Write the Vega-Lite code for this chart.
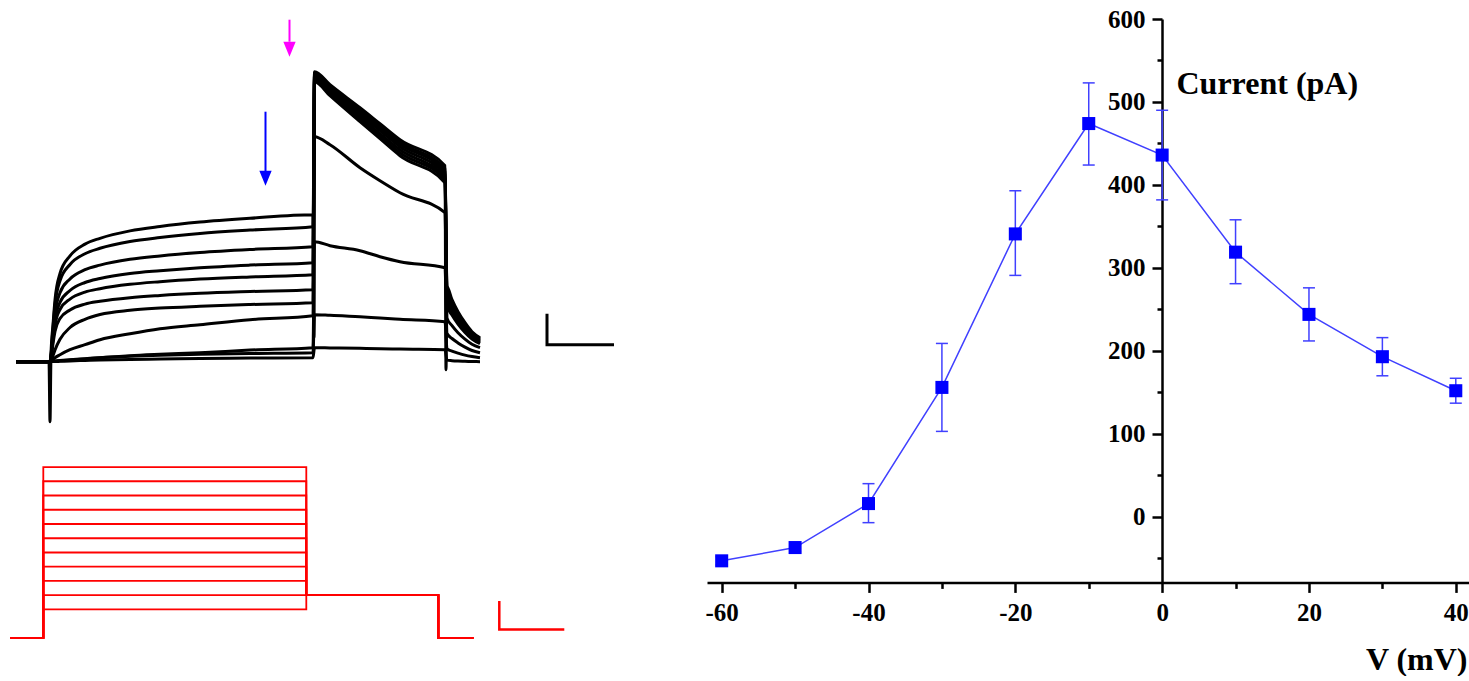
{
"$schema": "https://vega.github.io/schema/vega-lite/v6.json",
"autosize": {"type": "pad"},
"padding": {"top": 7, "left": 0, "right": 0, "bottom": 0},
"spacing": 0,
"bounds": "flush",
"config": {
  "view": {"stroke": null},
  "axis": {"grid": false, "domainColor": "#000000", "domainWidth": 2.5, "tickColor": "#000000", "tickWidth": 2.5,
    "labelFont": "Liberation Serif", "labelFontSize": 25, "labelFontWeight": "bold", "labelColor": "#000000",
    "titleFont": "Liberation Serif", "titleFontSize": 32, "titleFontWeight": "bold", "titleColor": "#000000",
    "labelOverlap": false, "labelBound": false}
},
"datasets": {
  "traces": [
    {"k":1,"t":-68,"I":0},{"k":1,"t":-2,"I":0},{"k":1,"t":0,"I":-300},{"k":1,"t":2,"I":37},{"k":1,"t":6,"I":184},{"k":1,"t":10,"I":309},{"k":1,"t":20,"I":441},{"k":1,"t":40,"I":529},{"k":1,"t":70,"I":588},{"k":1,"t":100,"I":617},{"k":1,"t":160,"I":654},{"k":1,"t":220,"I":676},{"k":1,"t":300,"I":698},{"k":1,"t":400,"I":717},{"k":1,"t":526,"I":735},{"k":1,"t":528,"I":120},{"k":1,"t":529,"I":1450},{"k":1,"t":560,"I":1385},{"k":1,"t":620,"I":1270},{"k":1,"t":660,"I":1190},{"k":1,"t":700,"I":1110},{"k":1,"t":790,"I":980},{"k":1,"t":792,"I":-40},{"k":1,"t":794,"I":375},{"k":1,"t":804,"I":310},{"k":1,"t":816,"I":250},{"k":1,"t":830,"I":195},{"k":1,"t":844,"I":150},{"k":1,"t":860,"I":120},
    {"k":2,"t":-68,"I":0},{"k":2,"t":-2,"I":0},{"k":2,"t":0,"I":0},{"k":2,"t":2,"I":34},{"k":2,"t":6,"I":169},{"k":2,"t":10,"I":284},{"k":2,"t":20,"I":405},{"k":2,"t":40,"I":486},{"k":2,"t":70,"I":540},{"k":2,"t":100,"I":567},{"k":2,"t":160,"I":601},{"k":2,"t":220,"I":621},{"k":2,"t":300,"I":641},{"k":2,"t":400,"I":658},{"k":2,"t":526,"I":675},{"k":2,"t":529,"I":1445},{"k":2,"t":560,"I":1378},{"k":2,"t":620,"I":1260},{"k":2,"t":660,"I":1178},{"k":2,"t":700,"I":1098},{"k":2,"t":790,"I":965},{"k":2,"t":794,"I":360},{"k":2,"t":804,"I":298},{"k":2,"t":816,"I":240},{"k":2,"t":830,"I":187},{"k":2,"t":844,"I":144},{"k":2,"t":860,"I":115},
    {"k":3,"t":-68,"I":0},{"k":3,"t":-2,"I":0},{"k":3,"t":0,"I":0},{"k":3,"t":2,"I":29},{"k":3,"t":6,"I":144},{"k":3,"t":10,"I":242},{"k":3,"t":20,"I":345},{"k":3,"t":40,"I":414},{"k":3,"t":70,"I":460},{"k":3,"t":100,"I":483},{"k":3,"t":160,"I":512},{"k":3,"t":220,"I":529},{"k":3,"t":300,"I":546},{"k":3,"t":400,"I":561},{"k":3,"t":526,"I":575},{"k":3,"t":529,"I":1435},{"k":3,"t":560,"I":1370},{"k":3,"t":620,"I":1250},{"k":3,"t":660,"I":1168},{"k":3,"t":700,"I":1088},{"k":3,"t":790,"I":950},{"k":3,"t":794,"I":345},{"k":3,"t":804,"I":285},{"k":3,"t":816,"I":230},{"k":3,"t":830,"I":179},{"k":3,"t":844,"I":138},{"k":3,"t":860,"I":110},
    {"k":4,"t":-68,"I":0},{"k":4,"t":-2,"I":0},{"k":4,"t":0,"I":0},{"k":4,"t":2,"I":25},{"k":4,"t":6,"I":124},{"k":4,"t":10,"I":208},{"k":4,"t":20,"I":297},{"k":4,"t":40,"I":356},{"k":4,"t":70,"I":396},{"k":4,"t":100,"I":416},{"k":4,"t":160,"I":441},{"k":4,"t":220,"I":455},{"k":4,"t":300,"I":470},{"k":4,"t":400,"I":483},{"k":4,"t":526,"I":495},{"k":4,"t":529,"I":1430},{"k":4,"t":560,"I":1360},{"k":4,"t":620,"I":1238},{"k":4,"t":660,"I":1155},{"k":4,"t":700,"I":1075},{"k":4,"t":790,"I":935},{"k":4,"t":794,"I":328},{"k":4,"t":804,"I":271},{"k":4,"t":816,"I":219},{"k":4,"t":830,"I":171},{"k":4,"t":844,"I":131},{"k":4,"t":860,"I":105},
    {"k":5,"t":-68,"I":0},{"k":5,"t":-2,"I":0},{"k":5,"t":0,"I":0},{"k":5,"t":2,"I":22},{"k":5,"t":6,"I":109},{"k":5,"t":10,"I":183},{"k":5,"t":20,"I":261},{"k":5,"t":40,"I":313},{"k":5,"t":70,"I":348},{"k":5,"t":100,"I":365},{"k":5,"t":160,"I":387},{"k":5,"t":220,"I":400},{"k":5,"t":300,"I":413},{"k":5,"t":400,"I":424},{"k":5,"t":526,"I":435},{"k":5,"t":529,"I":1420},{"k":5,"t":560,"I":1350},{"k":5,"t":620,"I":1225},{"k":5,"t":660,"I":1140},{"k":5,"t":700,"I":1060},{"k":5,"t":790,"I":920},{"k":5,"t":794,"I":311},{"k":5,"t":804,"I":257},{"k":5,"t":816,"I":208},{"k":5,"t":830,"I":162},{"k":5,"t":844,"I":125},{"k":5,"t":860,"I":100},
    {"k":6,"t":-68,"I":0},{"k":6,"t":-2,"I":0},{"k":6,"t":0,"I":0},{"k":6,"t":2,"I":18},{"k":6,"t":6,"I":90},{"k":6,"t":10,"I":151},{"k":6,"t":20,"I":216},{"k":6,"t":40,"I":259},{"k":6,"t":70,"I":288},{"k":6,"t":100,"I":302},{"k":6,"t":160,"I":320},{"k":6,"t":220,"I":331},{"k":6,"t":300,"I":342},{"k":6,"t":400,"I":351},{"k":6,"t":526,"I":360},{"k":6,"t":529,"I":1410},{"k":6,"t":560,"I":1340},{"k":6,"t":620,"I":1213},{"k":6,"t":660,"I":1128},{"k":6,"t":700,"I":1045},{"k":6,"t":790,"I":910},{"k":6,"t":794,"I":296},{"k":6,"t":804,"I":245},{"k":6,"t":816,"I":198},{"k":6,"t":830,"I":154},{"k":6,"t":844,"I":119},{"k":6,"t":860,"I":95},
    {"k":7,"t":-68,"I":0},{"k":7,"t":-2,"I":0},{"k":7,"t":0,"I":0},{"k":7,"t":2,"I":6},{"k":7,"t":6,"I":30},{"k":7,"t":10,"I":59},{"k":7,"t":20,"I":112},{"k":7,"t":40,"I":171},{"k":7,"t":70,"I":212},{"k":7,"t":100,"I":236},{"k":7,"t":160,"I":257},{"k":7,"t":220,"I":268},{"k":7,"t":300,"I":277},{"k":7,"t":400,"I":286},{"k":7,"t":526,"I":295},{"k":7,"t":529,"I":1400},{"k":7,"t":560,"I":1330},{"k":7,"t":620,"I":1200},{"k":7,"t":660,"I":1115},{"k":7,"t":700,"I":1030},{"k":7,"t":790,"I":895},{"k":7,"t":794,"I":281},{"k":7,"t":804,"I":233},{"k":7,"t":816,"I":188},{"k":7,"t":830,"I":146},{"k":7,"t":844,"I":113},{"k":7,"t":860,"I":90},
    {"k":8,"t":-68,"I":0},{"k":8,"t":-2,"I":0},{"k":8,"t":0,"I":0},{"k":8,"t":2,"I":5},{"k":8,"t":6,"I":12},{"k":8,"t":10,"I":20},{"k":8,"t":20,"I":35},{"k":8,"t":40,"I":60},{"k":8,"t":70,"I":85},{"k":8,"t":100,"I":110},{"k":8,"t":160,"I":140},{"k":8,"t":220,"I":165},{"k":8,"t":300,"I":185},{"k":8,"t":400,"I":210},{"k":8,"t":526,"I":230},{"k":8,"t":529,"I":1125},{"k":8,"t":560,"I":1085},{"k":8,"t":620,"I":970},{"k":8,"t":660,"I":905},{"k":8,"t":700,"I":845},{"k":8,"t":790,"I":745},{"k":8,"t":794,"I":218},{"k":8,"t":804,"I":180},{"k":8,"t":816,"I":145},{"k":8,"t":830,"I":113},{"k":8,"t":844,"I":87},{"k":8,"t":860,"I":70},
    {"k":9,"t":-68,"I":0},{"k":9,"t":-2,"I":0},{"k":9,"t":0,"I":0},{"k":9,"t":2,"I":1},{"k":9,"t":6,"I":2},{"k":9,"t":10,"I":3},{"k":9,"t":20,"I":5},{"k":9,"t":40,"I":9},{"k":9,"t":70,"I":14},{"k":9,"t":100,"I":20},{"k":9,"t":160,"I":30},{"k":9,"t":220,"I":37},{"k":9,"t":300,"I":45},{"k":9,"t":400,"I":58},{"k":9,"t":526,"I":70},{"k":9,"t":529,"I":600},{"k":9,"t":560,"I":580},{"k":9,"t":620,"I":555},{"k":9,"t":660,"I":525},{"k":9,"t":700,"I":500},{"k":9,"t":790,"I":470},{"k":9,"t":794,"I":141},{"k":9,"t":804,"I":116},{"k":9,"t":816,"I":94},{"k":9,"t":830,"I":73},{"k":9,"t":844,"I":56},{"k":9,"t":860,"I":45},
    {"k":10,"t":-68,"I":0},{"k":10,"t":-2,"I":0},{"k":10,"t":0,"I":0},{"k":10,"t":2,"I":1},{"k":10,"t":6,"I":2},{"k":10,"t":10,"I":3},{"k":10,"t":20,"I":6},{"k":10,"t":40,"I":10},{"k":10,"t":70,"I":15},{"k":10,"t":100,"I":20},{"k":10,"t":160,"I":27},{"k":10,"t":220,"I":32},{"k":10,"t":300,"I":37},{"k":10,"t":400,"I":41},{"k":10,"t":526,"I":45},{"k":10,"t":529,"I":235},{"k":10,"t":560,"I":232},{"k":10,"t":620,"I":225},{"k":10,"t":660,"I":218},{"k":10,"t":700,"I":212},{"k":10,"t":790,"I":200},{"k":10,"t":794,"I":64},{"k":10,"t":804,"I":53},{"k":10,"t":816,"I":43},{"k":10,"t":830,"I":33},{"k":10,"t":844,"I":26},{"k":10,"t":860,"I":20},
    {"k":11,"t":-68,"I":0},{"k":11,"t":-2,"I":0},{"k":11,"t":0,"I":0},{"k":11,"t":2,"I":0},{"k":11,"t":6,"I":1},{"k":11,"t":10,"I":1},{"k":11,"t":20,"I":2},{"k":11,"t":40,"I":4},{"k":11,"t":70,"I":6},{"k":11,"t":100,"I":8},{"k":11,"t":160,"I":11},{"k":11,"t":220,"I":13},{"k":11,"t":300,"I":16},{"k":11,"t":400,"I":18},{"k":11,"t":526,"I":20},{"k":11,"t":529,"I":70},{"k":11,"t":560,"I":69},{"k":11,"t":620,"I":67},{"k":11,"t":660,"I":65},{"k":11,"t":700,"I":63},{"k":11,"t":790,"I":60},{"k":11,"t":794,"I":8},{"k":11,"t":804,"I":5},{"k":11,"t":816,"I":3},{"k":11,"t":830,"I":2},{"k":11,"t":844,"I":1},{"k":11,"t":860,"I":0}
  ],
  "ibar": [{"s":0,"t":994,"I":240},{"s":1,"t":994,"I":85},{"s":2,"t":1128,"I":85}],
  "arrows": [{"m":"steady","t":431,"top":1250,"bot":950,"head":917},{"m":"peak","t":479,"top":1710,"bot":1600,"head":1562}],
  "protocol": [
    {"L":40,"s":0,"t":-66,"v":-80},{"L":40,"s":1,"t":0,"v":-80},{"L":40,"s":2,"t":0,"v":40},{"L":40,"s":3,"t":526,"v":40},{"L":40,"s":4,"t":526,"v":-50},{"L":40,"s":5,"t":790,"v":-50},{"L":40,"s":6,"t":790,"v":-80},{"L":40,"s":7,"t":860,"v":-80},
    {"L":30,"s":0,"t":-66,"v":-80},{"L":30,"s":1,"t":0,"v":-80},{"L":30,"s":2,"t":0,"v":30},{"L":30,"s":3,"t":526,"v":30},{"L":30,"s":4,"t":526,"v":-50},{"L":30,"s":5,"t":790,"v":-50},{"L":30,"s":6,"t":790,"v":-80},{"L":30,"s":7,"t":860,"v":-80},
    {"L":20,"s":0,"t":-66,"v":-80},{"L":20,"s":1,"t":0,"v":-80},{"L":20,"s":2,"t":0,"v":20},{"L":20,"s":3,"t":526,"v":20},{"L":20,"s":4,"t":526,"v":-50},{"L":20,"s":5,"t":790,"v":-50},{"L":20,"s":6,"t":790,"v":-80},{"L":20,"s":7,"t":860,"v":-80},
    {"L":10,"s":0,"t":-66,"v":-80},{"L":10,"s":1,"t":0,"v":-80},{"L":10,"s":2,"t":0,"v":10},{"L":10,"s":3,"t":526,"v":10},{"L":10,"s":4,"t":526,"v":-50},{"L":10,"s":5,"t":790,"v":-50},{"L":10,"s":6,"t":790,"v":-80},{"L":10,"s":7,"t":860,"v":-80},
    {"L":0,"s":0,"t":-66,"v":-80},{"L":0,"s":1,"t":0,"v":-80},{"L":0,"s":2,"t":0,"v":0},{"L":0,"s":3,"t":526,"v":0},{"L":0,"s":4,"t":526,"v":-50},{"L":0,"s":5,"t":790,"v":-50},{"L":0,"s":6,"t":790,"v":-80},{"L":0,"s":7,"t":860,"v":-80},
    {"L":-10,"s":0,"t":-66,"v":-80},{"L":-10,"s":1,"t":0,"v":-80},{"L":-10,"s":2,"t":0,"v":-10},{"L":-10,"s":3,"t":526,"v":-10},{"L":-10,"s":4,"t":526,"v":-50},{"L":-10,"s":5,"t":790,"v":-50},{"L":-10,"s":6,"t":790,"v":-80},{"L":-10,"s":7,"t":860,"v":-80},
    {"L":-20,"s":0,"t":-66,"v":-80},{"L":-20,"s":1,"t":0,"v":-80},{"L":-20,"s":2,"t":0,"v":-20},{"L":-20,"s":3,"t":526,"v":-20},{"L":-20,"s":4,"t":526,"v":-50},{"L":-20,"s":5,"t":790,"v":-50},{"L":-20,"s":6,"t":790,"v":-80},{"L":-20,"s":7,"t":860,"v":-80},
    {"L":-30,"s":0,"t":-66,"v":-80},{"L":-30,"s":1,"t":0,"v":-80},{"L":-30,"s":2,"t":0,"v":-30},{"L":-30,"s":3,"t":526,"v":-30},{"L":-30,"s":4,"t":526,"v":-50},{"L":-30,"s":5,"t":790,"v":-50},{"L":-30,"s":6,"t":790,"v":-80},{"L":-30,"s":7,"t":860,"v":-80},
    {"L":-40,"s":0,"t":-66,"v":-80},{"L":-40,"s":1,"t":0,"v":-80},{"L":-40,"s":2,"t":0,"v":-40},{"L":-40,"s":3,"t":526,"v":-40},{"L":-40,"s":4,"t":526,"v":-50},{"L":-40,"s":5,"t":790,"v":-50},{"L":-40,"s":6,"t":790,"v":-80},{"L":-40,"s":7,"t":860,"v":-80},
    {"L":-50,"s":0,"t":-66,"v":-80},{"L":-50,"s":1,"t":0,"v":-80},{"L":-50,"s":2,"t":0,"v":-50},{"L":-50,"s":3,"t":526,"v":-50},{"L":-50,"s":4,"t":526,"v":-50},{"L":-50,"s":5,"t":790,"v":-50},{"L":-50,"s":6,"t":790,"v":-80},{"L":-50,"s":7,"t":860,"v":-80},
    {"L":-60,"s":0,"t":-66,"v":-80},{"L":-60,"s":1,"t":0,"v":-80},{"L":-60,"s":2,"t":0,"v":-60},{"L":-60,"s":3,"t":526,"v":-60},{"L":-60,"s":4,"t":526,"v":-50},{"L":-60,"s":5,"t":790,"v":-50},{"L":-60,"s":6,"t":790,"v":-80},{"L":-60,"s":7,"t":860,"v":-80}
  ],
  "vbar": [{"s":0,"t":912,"v":-54},{"s":1,"t":912,"v":-74},{"s":2,"t":1042,"v":-74}],
  "iv": [
    {"V":-60,"I":-53,"lo":-58,"hi":-48},
    {"V":-50,"I":-37,"lo":-42,"hi":-32},
    {"V":-40,"I":16,"lo":-7,"hi":40},
    {"V":-30,"I":156,"lo":103,"hi":209},
    {"V":-20,"I":341,"lo":291,"hi":393},
    {"V":-10,"I":474,"lo":424,"hi":523},
    {"V":0,"I":436,"lo":382,"hi":490},
    {"V":10,"I":319,"lo":281,"hi":358},
    {"V":20,"I":244,"lo":212,"hi":276},
    {"V":30,"I":193,"lo":170,"hi":216},
    {"V":40,"I":152,"lo":137,"hi":167}
  ]
},
"hconcat": [
  {
    "width": 707, "height": 640,
    "layer": [
      {
        "data": {"name": "traces"},
        "mark": {"type": "line", "color": "#000000", "strokeWidth": 3, "strokeJoin": "round", "interpolate": "monotone"},
        "encoding": {
          "x": {"field": "t", "type": "quantitative", "scale": {"domain": [-100, 1314], "nice": false, "zero": false}, "axis": null},
          "y": {"field": "I", "type": "quantitative", "scale": {"domain": [-1486.5, 1713.5], "nice": false, "zero": false}, "axis": null},
          "detail": {"field": "k", "type": "nominal"}
        }
      },
      {
        "data": {"name": "ibar"},
        "mark": {"type": "line", "color": "#000000", "strokeWidth": 3},
        "encoding": {
          "x": {"field": "t", "type": "quantitative", "scale": {"domain": [-100, 1314], "nice": false, "zero": false}, "axis": null},
          "y": {"field": "I", "type": "quantitative", "scale": {"domain": [-1486.5, 1713.5], "nice": false, "zero": false}, "axis": null},
          "order": {"field": "s", "type": "quantitative"}
        }
      },
      {
        "data": {"name": "arrows"},
        "mark": {"type": "rule", "strokeWidth": 2},
        "encoding": {
          "x": {"field": "t", "type": "quantitative", "scale": {"domain": [-100, 1314], "nice": false, "zero": false}, "axis": null},
          "y": {"field": "top", "type": "quantitative", "scale": {"domain": [-1486.5, 1713.5], "nice": false, "zero": false}, "axis": null},
          "y2": {"field": "bot"},
          "color": {"field": "m", "type": "nominal", "scale": {"domain": ["steady", "peak"], "range": ["#0000ff", "#ff00ff"]}, "legend": null}
        }
      },
      {
        "data": {"name": "arrows"},
        "mark": {"type": "point", "shape": "M-0.82,-1L0.82,-1L0,1Z", "size": 225, "filled": true, "opacity": 1},
        "encoding": {
          "x": {"field": "t", "type": "quantitative", "scale": {"domain": [-100, 1314], "nice": false, "zero": false}, "axis": null},
          "y": {"field": "head", "type": "quantitative", "scale": {"domain": [-1486.5, 1713.5], "nice": false, "zero": false}, "axis": null},
          "color": {"field": "m", "type": "nominal", "scale": {"domain": ["steady", "peak"], "range": ["#0000ff", "#ff00ff"]}, "legend": null}
        }
      },
      {
        "data": {"name": "protocol"},
        "mark": {"type": "line", "color": "#ff0000", "strokeWidth": 1.8},
        "encoding": {
          "x": {"field": "t", "type": "quantitative", "scale": {"domain": [-86.6, 1327.4], "nice": false, "zero": false}, "axis": null},
          "y": {"field": "v", "type": "quantitative", "scale": {"domain": [-94.8, 354.6], "nice": false, "zero": false}, "axis": null},
          "detail": {"field": "L", "type": "nominal"},
          "order": {"field": "s", "type": "quantitative"}
        }
      },
      {
        "data": {"name": "vbar"},
        "mark": {"type": "line", "color": "#ff0000", "strokeWidth": 2.5},
        "encoding": {
          "x": {"field": "t", "type": "quantitative", "scale": {"domain": [-86.6, 1327.4], "nice": false, "zero": false}, "axis": null},
          "y": {"field": "v", "type": "quantitative", "scale": {"domain": [-94.8, 354.6], "nice": false, "zero": false}, "axis": null},
          "order": {"field": "s", "type": "quantitative"}
        }
      }
    ],
    "resolve": {"scale": {"x": "independent", "y": "independent"}}
  },
  {
    "width": 762, "height": 563.4,
    "data": {"name": "iv"},
    "layer": [
      {
        "mark": {"type": "line", "color": "#4040ff", "strokeWidth": 1.5},
        "encoding": {
          "x": {"field": "V", "type": "quantitative", "scale": {"domain": [-62, 41.8], "nice": false, "zero": false},
            "axis": {"values": [-60,-50,-40,-30,-20,-10,0,10,20,30,40], "labelExpr": "datum.value % 20 === 0 ? '' + datum.value : ''", "tickSize": {"condition": {"test": "datum.value % 20 === 0", "value": 10}, "value": 6}, "labelPadding": 8, "title": "V (mV)", "titleX": 760, "titleY": 87, "titleAlign": "right", "titleBaseline": "alphabetic", "titleAngle": 0}},
          "y": {"field": "I", "type": "quantitative", "scale": {"domain": [-79, 600], "nice": false, "zero": false},
            "axis": {"values": [-50,0,50,100,150,200,250,300,350,400,450,500,550,600], "labelExpr": "datum.value % 100 === 0 ? '' + datum.value : ''", "tickSize": {"condition": {"test": "datum.value % 100 === 0", "value": 10}, "value": 5}, "labelPadding": 7, "offset": -455, "title": "Current (pA)", "titleX": 14, "titleY": 74, "titleAlign": "left", "titleBaseline": "alphabetic", "titleAngle": 0}}
        }
      },
      {
        "mark": {"type": "rule", "color": "#4040ff", "strokeWidth": 1.5},
        "encoding": {
          "x": {"field": "V", "type": "quantitative"},
          "y": {"field": "lo", "type": "quantitative"},
          "y2": {"field": "hi"}
        }
      },
      {
        "mark": {"type": "tick", "color": "#4040ff", "thickness": 1.5, "size": 12, "orient": "horizontal", "opacity": 1},
        "encoding": {
          "x": {"field": "V", "type": "quantitative"},
          "y": {"field": "lo", "type": "quantitative"}
        }
      },
      {
        "mark": {"type": "tick", "color": "#4040ff", "thickness": 1.5, "size": 12, "orient": "horizontal", "opacity": 1},
        "encoding": {
          "x": {"field": "V", "type": "quantitative"},
          "y": {"field": "hi", "type": "quantitative"}
        }
      },
      {
        "mark": {"type": "point", "shape": "square", "size": 170, "filled": true, "color": "#0000ff", "opacity": 1},
        "encoding": {
          "x": {"field": "V", "type": "quantitative"},
          "y": {"field": "I", "type": "quantitative"}
        }
      }
    ]
  }
]
}
